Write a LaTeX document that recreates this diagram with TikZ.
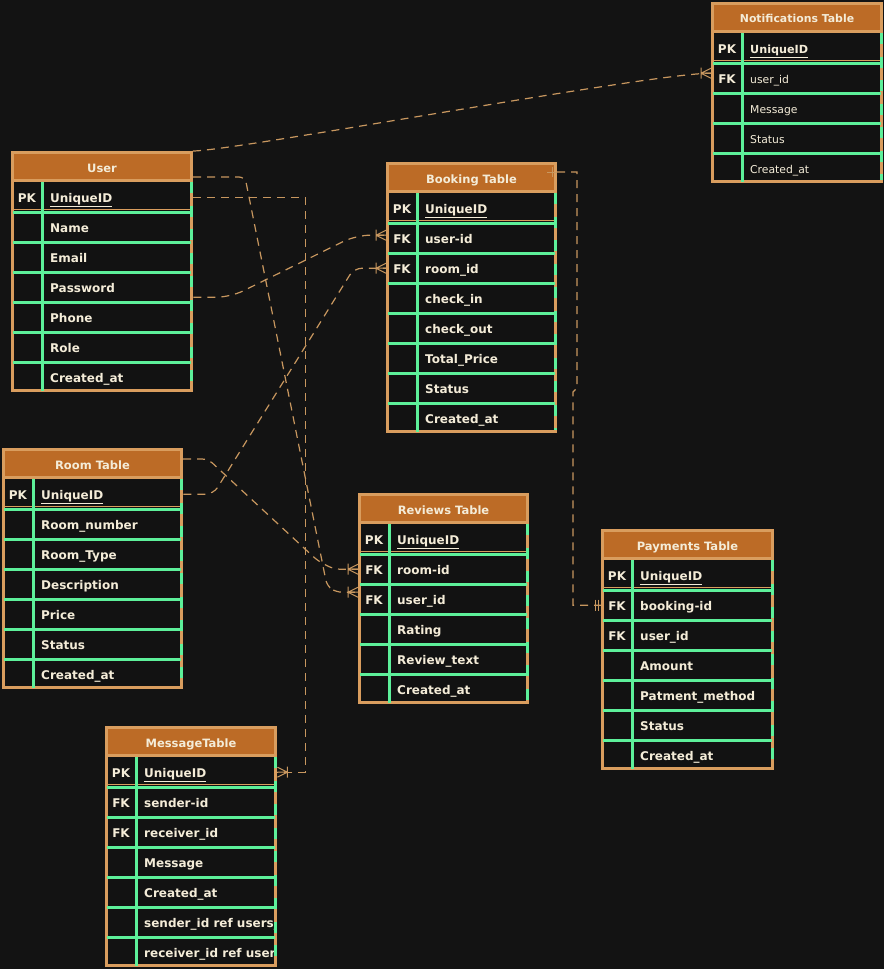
\documentclass[tikz,border=0pt]{standalone}
\usepackage{fontspec}
\setmainfont{DejaVu Sans}
\usetikzlibrary{calc}
\definecolor{bgc}{HTML}{131313}
\definecolor{rowbg}{HTML}{121212}
\definecolor{hdrfill}{HTML}{BC6B26}
\definecolor{tanb}{HTML}{D99D5E}
\definecolor{greenc}{HTML}{5DF09A}
\definecolor{cream}{HTML}{F4ECD8}
\definecolor{connc}{HTML}{C8975F}
\tikzset{
 hdrbox/.style={fill=hdrfill, draw=tanb, line width=3pt, inner sep=0pt, text=cream,
   text height=11pt, text depth=0pt, font=\bfseries\fontsize{11.5}{13}\selectfont},
 rowbox/.style={fill=rowbg, inner sep=0pt, minimum height=30pt},
 keytxt/.style={text=cream, font=\bfseries\fontsize{12}{14}\selectfont, inner sep=0pt, anchor=base},
 fldB/.style={text=cream, font=\bfseries\fontsize{12}{14}\selectfont, inner sep=0pt, anchor=base west},
 fldR/.style={text=cream, font=\fontsize{10.8}{13}\selectfont, inner sep=0pt, anchor=base west},
 grn/.style={draw=greenc, line width=3pt},
 tanthin/.style={draw=tanb, line width=1pt},
 conn/.style={draw=connc, line width=1.2pt, dash pattern=on 8pt off 6pt},
 mk/.style={draw=connc, line width=1pt},
 crowR/.pic={\draw[mk] (-10,0) -- (0,-5) (-10,0) -- (0,5) (-10,0) -- (0,0) (-10,-5.5) -- (-10,5.5);},
 bars2/.pic={\draw[mk] (-6,-5.5) -- (-6,5.5) (-3,-5.5) -- (-3,5.5);},
 onebar/.pic={\draw[mk] (-10,0) -- (0,0) (-5,-5) -- (-5,5);},
}
% #1 name, #2 left, #3 top, #4 width, #5 title, #6 field style, #7 rows
\newcommand{\erdtable}[7]{%
 \node[hdrbox, minimum width=#4pt-3pt, minimum height=28pt, anchor=north west] (#1) at (#2,#3) {#5};
 \foreach \kk/\ff [count=\i] in {#7} {
   \node[rowbox, minimum width=#4pt, anchor=north west] (#1-\i) at (#2, #3+31+30*\i-30) {};
   \node[keytxt] at ($(#1-\i.west)+(16pt,-5.3pt)$) {\kk};
   \begin{scope}
     \clip (#1-\i.south west) rectangle ([xshift=-2pt]#1-\i.north east);
     \node[#6] at ($(#1-\i.west)+(39pt,-5.3pt)$) {\ff};
   \end{scope}
   \xdef\nrows{\i}
 }
 \pgfmathsetmacro\tB{#3+31+30*\nrows}
 \pgfmathsetmacro\tR{#2+#4}
 \pgfmathtruncatemacro\nsep{\nrows-1}
 \draw[tanb, line width=3pt] (#2+1.5, #3+1.5) rectangle (\tR-1.5, \tB-1.5);
 \draw[tanthin] ([xshift=2pt,yshift=2.5pt]#1-1.south west) -- ([xshift=-2pt,yshift=2.5pt]#1-1.south east);
 \foreach \j in {1,...,\nsep} {
   \draw[grn] ([xshift=2pt]#1-\j.south west) -- ([xshift=-2pt]#1-\j.south east);
 }
 \draw[grn] (#2+31, #3+31) -- (#2+31, \tB-1.5);
 \draw[grn, dash pattern=on 11pt off 12.5pt] (\tR-1.5, #3+31) -- (\tR-1.5, \tB-3);
}
\begin{document}
\begin{tikzpicture}[x=1pt,y=-1pt]
\useasboundingbox (0,0) rectangle (884,969);
\fill[bgc] (0,0) rectangle (884,969);

\erdtable{notif}{711}{2}{172}{{\fontsize{10.9}{12}\selectfont Notifications Table}}{fldR}{PK/{\bfseries\fontsize{11.2}{13}\selectfont\underline{UniqueID}}, FK/user\_id, /Message, /Status, /Created\_at}
\erdtable{user}{11}{151}{182}{User}{fldB}{PK/\underline{UniqueID}, /Name, /Email, /Password, /Phone, /Role, /Created\_at}
\erdtable{booking}{386}{162}{171}{Booking Table}{fldB}{PK/\underline{UniqueID}, FK/user-id, FK/room\_id, /check\_in, /check\_out, /Total\_Price, /Status, /Created\_at}
\erdtable{room}{2}{448}{181}{Room Table}{fldB}{PK/\underline{UniqueID}, /Room\_number, /Room\_Type, /Description, /Price, /Status, /Created\_at}
\erdtable{reviews}{358}{493}{171}{Reviews Table}{fldB}{PK/\underline{UniqueID}, FK/room-id, FK/user\_id, /Rating, /Review\_text, /Created\_at}
\erdtable{payments}{601}{529}{173}{Payments Table}{fldB}{PK/\underline{UniqueID}, FK/booking-id, FK/user\_id, /Amount, /Patment\_method, /Status, /Created\_at}
\erdtable{message}{105}{726}{172}{MessageTable}{fldB}{PK/\underline{UniqueID}, FK/sender-id, FK/receiver\_id, /Message, /Created\_at, /sender\_id ref users\_, /receiver\_id ref users}

% connectors
\draw[conn] (user.north east) .. controls +(40,0) and +(-60,0) .. ([yshift=5pt]notif-2.west);
\pic at ([yshift=5pt]notif-2.west) {crowR};

\draw[conn] (user-1.east) -- ++(112,0) |- (message-1.east);
\pic[xscale=-1] at (message-1.east) {crowR};

\draw[conn, rounded corners=14pt] ([yshift=-10pt]user-4.east) -- ++(37,0) -- ([xshift=-30pt,yshift=3pt]booking-2.west) -- ([yshift=3pt]booking-2.west);
\pic at ([yshift=3pt]booking-2.west) {crowR};

\draw[conn, rounded corners=8pt] (room-1.east) -- ++(30,0) -- ([xshift=-32pt]booking-3.west) -- (booking-3.west);
\pic at (booking-3.west) {crowR};

\draw[conn, rounded corners=6pt] ([yshift=4.5pt]room.east) -- ++(25,0) -- (318,561) -- ([xshift=-24pt]reviews-2.west) -- (reviews-2.west);
\pic at (reviews-2.west) {crowR};

\draw[conn, rounded corners=6pt] ([yshift=-10.5pt]user.east) -- ++(52,0) -- (327,586) -- ([xshift=-22pt,yshift=7pt]reviews-3.west) -- ([yshift=7pt]reviews-3.west);
\pic at ([yshift=7pt]reviews-3.west) {crowR};

\draw[conn] ([yshift=5.5pt]booking.east) -- ++(20,0) -- ++(0,216) -- ++(-4,4) |- (payments-2.west);
\pic at ([yshift=5.5pt]booking.east) {onebar};
\pic at (payments-2.west) {bars2};
\end{tikzpicture}
\end{document}
